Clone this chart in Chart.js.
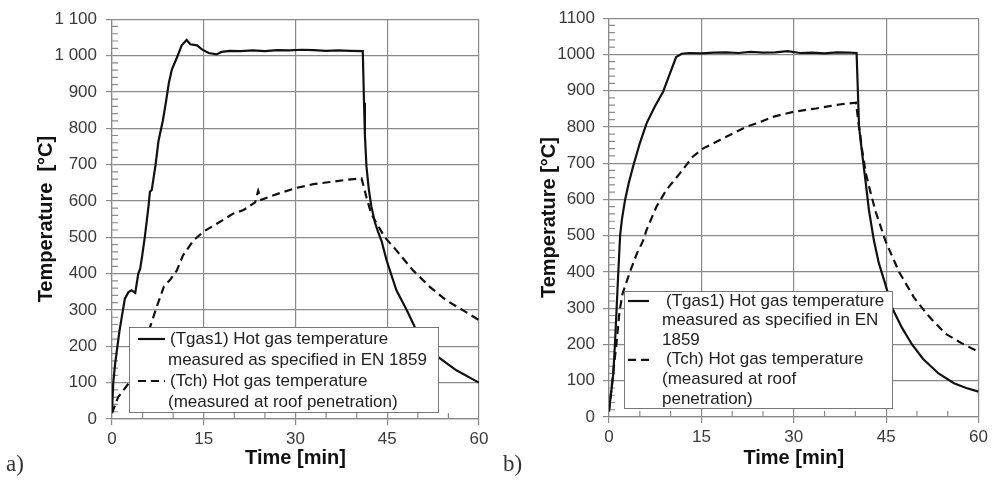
<!DOCTYPE html>
<html>
<head>
<meta charset="utf-8">
<script src="https://cdn.jsdelivr.net/npm/chart.js@4.4.1/dist/chart.umd.min.js"></script>
<style>
  body { margin: 0; background: #fff; }
  #wrap { position: relative; width: 992px; height: 486px; overflow: hidden; }
  .panel { position: absolute; top: 0; width: 496px; height: 486px; }
  .tag { position: absolute; top: 452px; font-family: "Liberation Serif", "DejaVu Serif", serif; font-size: 23px; line-height: 1; color: #333; }
</style>
</head>
<body>
<div id="wrap">
  <div class="panel" style="left:0"><canvas id="chartA"></canvas></div>
  <div class="panel" style="left:496px"><canvas id="chartB"></canvas></div>
  <div class="tag" style="left:6px">a)</div>
  <div class="tag" style="left:503px">b)</div>
</div>
<script>
// tick labels
const xTickLabels = ["0", "15", "30", "45", "60"];
const yTickLabelsA = ["0", "100", "200", "300", "400", "500", "600", "700", "800", "900", "1 000", "1 100"];
const yTickLabelsB = ["0", "100", "200", "300", "400", "500", "600", "700", "800", "900", "1000", "1100"];

// a) time [min] / temperature [°C]
const tgasTimeA = [0, 0.2, 0.5, 0.8, 1.2, 1.6, 2.1, 2.7, 3.2, 3.8, 4.3, 4.6, 4.9, 5.4, 6.0, 6.2, 6.5, 7.1, 7.6, 8.3, 8.8, 9.3, 9.8, 10.6, 11.4, 12.2, 12.8, 13.9, 14.7, 15.8, 17.1, 17.9, 19.3, 21, 23, 25, 27, 29, 31, 33, 35, 37, 39, 41.0, 41.2, 41.35, 41.6, 42.0, 42.4, 43.0, 43.5, 44.1, 44.9, 46.5, 48.2, 49.5, 51.5, 53.3, 56.3, 60];
const tgasTempA = [20, 98, 150, 189, 240, 281, 331, 349, 354, 347, 400, 413, 445, 505, 590, 625, 630, 697, 765, 820, 870, 925, 962, 994, 1028, 1043, 1031, 1028, 1017, 1007, 1003, 1010, 1013, 1012, 1014, 1012, 1015, 1014, 1016, 1015, 1013, 1014, 1013, 1012, 870, 780, 695, 630, 585, 540, 515, 488, 436, 354, 299, 253, 205, 171, 134, 100];
const tchTimeA = [0, 1.0, 2.8, 4.5, 6.2, 7.3, 8.5, 9.5, 10.6, 11.6, 13.3, 15.0, 17.4, 19.8, 21.5, 23.4, 23.9, 24.4, 27.5, 30.2, 32.9, 35.6, 38.3, 40.8, 41.6, 42.4, 43.3, 44.6, 46.5, 49.2, 52.0, 54.7, 57.4, 60];
const tchTempA = [16, 60, 100, 175, 252, 308, 365, 383, 409, 450, 491, 516, 540, 565, 575, 596, 628, 603, 622, 636, 646, 652, 658, 662, 610, 564, 537, 500, 464, 409, 363, 326, 299, 272];

// b)
const tgasTimeB = [0, 0.3, 0.7, 1.0, 1.25, 1.5, 1.8, 2.1, 2.6, 3.2, 3.9, 5.0, 6.1, 7.4, 8.8, 9.9, 10.9, 11.8, 13, 15, 17, 19, 21, 23, 25, 27, 29, 31, 33, 35, 37, 39, 40.2, 40.6, 41.1, 41.7, 42.2, 43.0, 43.8, 44.8, 46.0, 47.6, 49.2, 51.0, 53.5, 56.0, 58.0, 60];
const tgasTempB = [20, 60, 120, 212, 304, 396, 500, 545, 598, 645, 690, 755, 810, 855, 898, 948, 993, 1002, 1004, 1003, 1005, 1006, 1004, 1007, 1005, 1006, 1009, 1004, 1005, 1003, 1006, 1005, 1004, 800, 727, 644, 571, 488, 425, 370, 300, 245, 200, 160, 120, 93, 80, 70];
const tchTimeB = [0, 0.6, 1.2, 1.7, 2.2, 2.6, 3.4, 4.5, 5.5, 6.1, 7.7, 9.3, 11.5, 13.6, 15.3, 18.0, 20.1, 22.5, 24.0, 26.6, 30.0, 33.6, 37.4, 40.1, 40.6, 41.1, 41.7, 42.5, 43.3, 44.9, 47.1, 49.5, 51.7, 54.6, 57.3, 60];
const tchTempB = [15, 110, 200, 290, 340, 360, 400, 450, 485, 516, 580, 626, 672, 718, 741, 764, 782, 802, 810, 828, 842, 851, 862, 867, 800, 736, 672, 617, 566, 485, 400, 330, 282, 230, 203, 180];

const legendTextA = [
  ["(Tgas1) Hot gas temperature", "measured as specified in EN 1859"],
  ["(Tch) Hot gas temperature", "(measured at roof penetration)"]
];
const legendTextB = [
  ["(Tgas1) Hot gas temperature", "measured as specified in EN", "1859"],
  ["(Tch) Hot gas temperature", "(measured at roof", "penetration)"]
];

const fontFamily = "'Liberation Sans', Arial, sans-serif";
const gridGray = "#8a8a8a";
const tickGray = "#3a3a3a";

function toPoints(times, temps) {
  return times.map((t, i) => ({ x: t, y: temps[i] }));
}

// small inner ticks at 20 °C and 5 min
const minorTicks = {
  id: "minorTicks",
  beforeDatasetsDraw(chart) {
    const { ctx, chartArea, scales } = chart;
    ctx.save();
    ctx.strokeStyle = gridGray;
    ctx.lineWidth = 1.2;
    ctx.beginPath();
    scales.y.ticks.forEach(tick => {
      if (Math.round(tick.value) % 100 === 0) return;
      const y = scales.y.getPixelForValue(tick.value);
      ctx.moveTo(chartArea.left, y);
      ctx.lineTo(chartArea.left + 6, y);
    });
    scales.x.ticks.forEach(tick => {
      if (Math.round(tick.value) % 15 === 0) return;
      const x = scales.x.getPixelForValue(tick.value);
      ctx.moveTo(x, chartArea.bottom);
      ctx.lineTo(x, chartArea.bottom - 6);
    });
    ctx.stroke();
    ctx.restore();
  }
};

// boxed legend sitting inside the plot
const boxLegend = {
  id: "boxLegend",
  afterDatasetsDraw(chart, args, opts) {
    const ctx = chart.ctx;
    const box = opts.box;
    ctx.save();
    ctx.fillStyle = "#fff";
    ctx.fillRect(box.x, box.y, box.w, box.h);
    ctx.strokeStyle = "#777";
    ctx.lineWidth = 1;
    ctx.strokeRect(box.x + 0.5, box.y + 0.5, box.w, box.h);
    ctx.font = "17px " + fontFamily;
    ctx.textBaseline = "middle";
    let y = box.y + opts.firstLine;
    chart.data.datasets.forEach((ds, i) => {
      ctx.strokeStyle = ds.borderColor;
      ctx.lineWidth = ds.borderWidth;
      ctx.setLineDash(ds.borderDash || []);
      ctx.beginPath();
      ctx.moveTo(opts.sampleX[0], y);
      ctx.lineTo(opts.sampleX[1], y);
      ctx.stroke();
      ctx.setLineDash([]);
      ctx.fillStyle = "#222";
      opts.lines[i].forEach((line, j) => {
        ctx.fillText(line, opts.textX + (j === 0 ? opts.firstIndent : 0), y);
        y += opts.lineGap;
      });
    });
    ctx.restore();
  }
};

function makeChart(id, cfg) {
  const isMajor = step => c => (c.tick && Math.round(c.tick.value) % step === 0) ? gridGray : "rgba(0,0,0,0)";
  return new Chart(document.getElementById(id), {
    type: "line",
    data: {
      datasets: [
        {
          label: "Tgas1",
          data: toPoints(cfg.tgasTime, cfg.tgasTemp),
          borderColor: "#111",
          borderWidth: 2.2,
          pointRadius: 0,
          tension: 0,
          fill: false
        },
        {
          label: "Tch",
          data: toPoints(cfg.tchTime, cfg.tchTemp),
          borderColor: "#111",
          borderWidth: 2.2,
          borderDash: [8, 5],
          pointRadius: 0,
          tension: 0,
          fill: false
        }
      ]
    },
    options: {
      responsive: true,
      maintainAspectRatio: false,
      animation: false,
      devicePixelRatio: 1,
      layout: { padding: cfg.padding },
      plugins: {
        legend: { display: false },
        tooltip: { enabled: false },
        boxLegend: cfg.legend
      },
      scales: {
        x: {
          type: "linear",
          min: 0,
          max: 60,
          afterFit: s => { s.height = cfg.xAxisHeight; },
          ticks: {
            stepSize: 5,
            autoSkip: false,
            maxRotation: 0,
            padding: 4,
            color: tickGray,
            font: { family: fontFamily, size: 17 },
            callback: v => Math.round(v) % 15 === 0 ? xTickLabels[Math.round(v) / 15] : ""
          },
          grid: { color: isMajor(15), tickColor: isMajor(15), tickLength: 6, lineWidth: 1.2 },
          border: { color: gridGray, width: 1.2 },
          title: {
            display: true,
            text: "Time [min]",
            color: "#111",
            font: { family: fontFamily, size: 20, weight: "bold" },
            padding: { top: 0, bottom: 16 }
          }
        },
        y: {
          min: 0,
          max: 1100,
          afterFit: s => { s.width = cfg.yAxisWidth; },
          ticks: {
            stepSize: 20,
            autoSkip: false,
            padding: cfg.yTickPad,
            color: tickGray,
            font: { family: fontFamily, size: 17 },
            callback: v => Math.round(v) % 100 === 0 ? cfg.yLabels[Math.round(v) / 100] : ""
          },
          grid: { color: isMajor(100), tickColor: isMajor(100), tickLength: 6, lineWidth: 1.2 },
          border: { color: gridGray, width: 1.2 },
          title: {
            display: true,
            text: cfg.yTitle,
            color: "#111",
            font: { family: fontFamily, size: 20, weight: "bold" },
            padding: { top: cfg.yTitleOffset, bottom: 0 }
          }
        }
      }
    },
    plugins: [minorTicks, boxLegend]
  });
}

makeChart("chartA", {
  tgasTime: tgasTimeA, tgasTemp: tgasTempA, tchTime: tchTimeA, tchTemp: tchTempA,
  yLabels: yTickLabelsA,
  yTitle: "Temperature  [°C]",
  padding: { left: 0, top: 18, right: 17, bottom: 0 },
  yAxisWidth: 112, xAxisHeight: 67, yTickPad: 9, yTitleOffset: 34,
  legend: {
    box: { x: 129, y: 327, w: 309, h: 85 },
    lines: legendTextA, firstLine: 12, lineGap: 21,
    sampleX: [138, 165], textX: 168, firstIndent: 2
  }
});

makeChart("chartB", {
  tgasTime: tgasTimeB, tgasTemp: tgasTempB, tchTime: tchTimeB, tchTemp: tchTempB,
  yLabels: yTickLabelsB,
  yTitle: "Temperature [°C]",
  padding: { left: 0, top: 18, right: 12, bottom: 0 },
  yAxisWidth: 113, xAxisHeight: 69, yTickPad: 8, yTitleOffset: 41,
  legend: {
    box: { x: 128, y: 291, w: 268, h: 117 },
    lines: legendTextB, firstLine: 10, lineGap: 19.6,
    sampleX: [132, 153], textX: 166, firstIndent: 4
  }
});
</script>
</body>
</html>
